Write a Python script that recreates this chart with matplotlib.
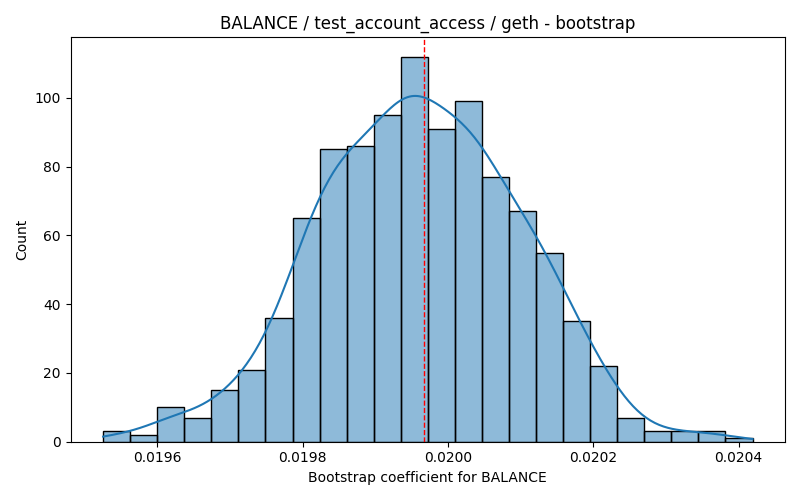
import math
import numpy as np
import matplotlib
matplotlib.use("Agg")
import matplotlib.pyplot as plt

# histogram of bootstrap coefficients
bin_start = 0.0195255
bin_end = 0.0204193
counts = [3, 2, 10, 7, 15, 21, 36, 65, 85, 86, 95, 112,
          91, 99, 77, 67, 55, 35, 22, 7, 3, 3, 3, 1]
point_estimate = 0.019967

edges = np.linspace(bin_start, bin_end, len(counts) + 1)
centers = (edges[:-1] + edges[1:]) / 2
width = edges[1] - edges[0]
cnt = np.array(counts, dtype=float)
n = cnt.sum()

# kde: values spread evenly inside each bin, gaussian kernel, scott bandwidth
mean = (cnt * centers).sum() / n
var = (cnt * (centers - mean) ** 2).sum() / (n - 1) + width ** 2 / 12
bw = math.sqrt(var) * n ** (-1 / 5)
erf = np.frompyfunc(math.erf, 1, 1)


def phi(z):
    return 0.5 * (1 + erf(z / math.sqrt(2)).astype(float))


grid = np.linspace(bin_start, bin_end, 300)
g = grid[:, None]
dens = (cnt * (phi((g - edges[:-1]) / bw) - phi((g - edges[1:]) / bw))).sum(axis=1)
dens = dens / (n * width)
kde = dens * n * width

fig, ax = plt.subplots(figsize=(8, 5), dpi=100)
ax.bar(centers, counts, width=width, color="#1f77b4", alpha=0.5,
       edgecolor="none")
ax.bar(centers, counts, width=width, fill=False, edgecolor="black",
       linewidth=1)
ax.plot(grid, kde, color="#1f77b4", linewidth=1.5)
ax.axvline(point_estimate, color="red", linestyle="--", linewidth=1)
ax.set_title("BALANCE / test_account_access / geth - bootstrap")
ax.set_xlabel("Bootstrap coefficient for BALANCE")
ax.set_ylabel("Count")
ax.set_ylim(0, 117.6)
ax.set_xticks([0.0196, 0.0198, 0.0200, 0.0202, 0.0204])
ax.set_xlim(bin_start - 0.05 * (bin_end - bin_start),
            bin_end + 0.05 * (bin_end - bin_start))
plt.tight_layout()
plt.savefig("out.png")
